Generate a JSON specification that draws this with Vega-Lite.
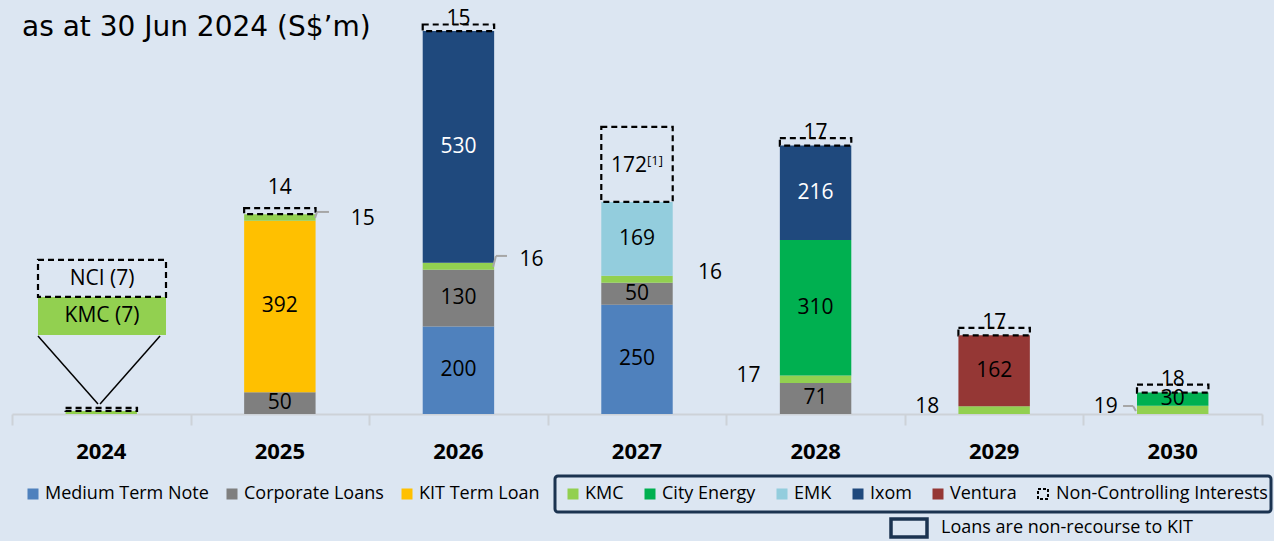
{
  "$schema": "https://vega.github.io/schema/vega-lite/v6.json",
  "width": 1250,
  "height": 414,
  "autosize": {"type": "none"},
  "padding": {"left": 12, "right": 12, "top": 0, "bottom": 127},
  "background": "#dce6f2",
  "title": {
    "text": "as at 30 Jun 2024 (S$’m)",
    "anchor": "start",
    "frame": "group",
    "orient": "top",
    "offset": -64,
    "dx": 10,
    "fontSize": 28,
    "font": "DejaVu Sans",
    "fontWeight": "normal",
    "color": "black",
    "baseline": "alphabetic"
  },
  "config": {
    "view": {"stroke": null},
    "text": {"font": "Open Sans"},
    "legend": {"labelFont": "Open Sans"}
  },
  "resolve": {"scale": {"x": "independent"}, "axis": {"x": "independent"}},
  "layer": [
    {
      "data": {
        "values": [
          {"year": "2024", "series": "KMC", "value": 7, "order": 4},
          {"year": "2024", "series": "Non-Controlling Interests", "value": 7, "order": 9},
          {"year": "2025", "series": "Corporate Loans", "value": 50, "order": 2},
          {"year": "2025", "series": "KIT Term Loan", "value": 392, "order": 3},
          {"year": "2025", "series": "KMC", "value": 15, "order": 4},
          {"year": "2025", "series": "Non-Controlling Interests", "value": 14, "order": 9},
          {"year": "2026", "series": "Medium Term Note", "value": 200, "order": 1},
          {"year": "2026", "series": "Corporate Loans", "value": 130, "order": 2},
          {"year": "2026", "series": "KMC", "value": 16, "order": 4},
          {"year": "2026", "series": "Ixom", "value": 530, "order": 7},
          {"year": "2026", "series": "Non-Controlling Interests", "value": 15, "order": 9},
          {"year": "2027", "series": "Medium Term Note", "value": 250, "order": 1},
          {"year": "2027", "series": "Corporate Loans", "value": 50, "order": 2},
          {"year": "2027", "series": "KMC", "value": 16, "order": 4},
          {"year": "2027", "series": "EMK", "value": 169, "order": 6},
          {"year": "2027", "series": "Non-Controlling Interests", "value": 172, "order": 9},
          {"year": "2028", "series": "Corporate Loans", "value": 71, "order": 2},
          {"year": "2028", "series": "KMC", "value": 17, "order": 4},
          {"year": "2028", "series": "City Energy", "value": 310, "order": 5},
          {"year": "2028", "series": "Ixom", "value": 216, "order": 7},
          {"year": "2028", "series": "Non-Controlling Interests", "value": 17, "order": 9},
          {"year": "2029", "series": "KMC", "value": 18, "order": 4},
          {"year": "2029", "series": "Ventura", "value": 162, "order": 8},
          {"year": "2029", "series": "Non-Controlling Interests", "value": 17, "order": 9},
          {"year": "2030", "series": "KMC", "value": 19, "order": 4},
          {"year": "2030", "series": "City Energy", "value": 30, "order": 5},
          {"year": "2030", "series": "Non-Controlling Interests", "value": 18, "order": 9}
        ]
      },
      "transform": [
        {"stack": "value", "groupby": ["year"], "sort": [{"field": "order", "order": "ascending"}], "as": ["y0", "y1"]},
        {"fold": ["y0", "y1"], "as": ["k", "v"]},
        {"aggregate": [{"op": "mean", "field": "v", "as": "mid"}], "groupby": ["year", "series", "value", "order", "y0", "y1"]}
      ],
      "layer": [
        {
          "transform": [{"filter": "indexof(['Medium Term Note','Corporate Loans','KIT Term Loan'], datum.series) >= 0"}],
          "mark": {"type": "bar"},
          "encoding": {
            "x": {
              "field": "year", "type": "nominal", "title": null,
              "scale": {"domain": ["2024", "2025", "2026", "2027", "2028", "2029", "2030"], "paddingInner": 0.6, "paddingOuter": 0.3},
              "axis": {"orient": "bottom", "domain": false, "ticks": false, "labelAngle": 0, "labelFont": "Open Sans", "labelFontSize": 22, "labelFontWeight": "bold", "labelColor": "black", "labelPadding": 27, "title": null}
            },
            "y": {"field": "y0", "type": "quantitative", "scale": {"domain": [0, 947], "nice": false, "zero": true}, "axis": null},
            "y2": {"field": "y1"},
            "color": {
              "field": "series", "type": "nominal",
              "scale": {"domain": ["Medium Term Note", "Corporate Loans", "KIT Term Loan"], "range": ["#4f81bd", "#7f7f7f", "#ffc000"]},
              "legend": {"orient": "none", "legendX": 12, "legendY": 485, "direction": "horizontal", "columns": 3, "title": null, "symbolType": "square", "symbolSize": 121, "symbolStrokeWidth": 0, "labelFontSize": 18, "labelColor": "black", "columnPadding": 14, "labelOffset": 3, "padding": 0, "labelLimit": 400}
            }
          }
        },
        {
          "transform": [{"filter": "indexof(['KMC','City Energy','EMK','Ixom','Ventura'], datum.series) >= 0"}],
          "mark": {"type": "bar"},
          "encoding": {
            "x": {"field": "year", "type": "nominal", "title": null},
            "y": {"field": "y0", "type": "quantitative", "axis": null},
            "y2": {"field": "y1"},
            "fill": {
              "field": "series", "type": "nominal",
              "scale": {"domain": ["KMC", "City Energy", "EMK", "Ixom", "Ventura"], "range": ["#92d050", "#00b050", "#93cddd", "#1f497d", "#953735"]},
              "legend": {
                "orient": "none", "legendX": 552, "legendY": 485, "direction": "horizontal", "columns": 5, "title": null,
                "symbolType": "square", "symbolSize": 121, "symbolStrokeWidth": 0, "labelFontSize": 18, "labelColor": "black", "columnPadding": 17, "labelOffset": 3, "padding": 0, "labelLimit": 400
              }
            }
          }
        },
        {
          "transform": [{"filter": "datum.series === 'Non-Controlling Interests'"}],
          "mark": {"type": "bar", "fill": "transparent", "stroke": "black", "strokeWidth": 2.2, "strokeDash": [6, 4]},
          "encoding": {
            "x": {"field": "year", "type": "nominal", "title": null},
            "y": {"field": "y0", "type": "quantitative", "axis": null},
            "y2": {"field": "y1"}
          }
        },
        {
          "transform": [{"filter": "datum.series !== 'KMC' && datum.series !== 'Non-Controlling Interests'"}],
          "mark": {"type": "text", "fontSize": 21, "baseline": "middle", "align": "center"},
          "encoding": {
            "x": {"field": "year", "type": "nominal", "title": null},
            "y": {"field": "mid", "type": "quantitative", "axis": null},
            "text": {"field": "value", "type": "quantitative"},
            "color": {"condition": {"test": "datum.series === 'Ixom'", "value": "white"}, "value": "black"}
          }
        },
        {
          "transform": [{"filter": "datum.series === 'Non-Controlling Interests' && indexof(['2026','2028','2029','2030'], datum.year) >= 0"}],
          "mark": {"type": "text", "fontSize": 21, "baseline": "middle", "align": "center", "dy": -5, "color": "black"},
          "encoding": {
            "x": {"field": "year", "type": "nominal", "title": null},
            "y": {"field": "y1", "type": "quantitative", "axis": null},
            "text": {"field": "value", "type": "quantitative"}
          }
        },
        {
          "transform": [{"filter": "datum.series === 'Non-Controlling Interests' && datum.year === '2025'"}],
          "mark": {"type": "text", "fontSize": 21, "baseline": "middle", "align": "center", "dy": -20, "color": "black"},
          "encoding": {
            "x": {"field": "year", "type": "nominal", "title": null},
            "y": {"field": "y1", "type": "quantitative", "axis": null},
            "text": {"field": "value", "type": "quantitative"}
          }
        },
        {
          "transform": [{"filter": "datum.series === 'Non-Controlling Interests' && datum.year === '2027'"}],
          "mark": {"type": "text", "fontSize": 21, "baseline": "middle", "align": "center", "dx": -8, "dy": 2, "color": "black"},
          "encoding": {
            "x": {"field": "year", "type": "nominal", "title": null},
            "y": {"field": "mid", "type": "quantitative", "axis": null},
            "text": {"field": "value", "type": "quantitative"}
          }
        },
        {
          "transform": [{"filter": "datum.series === 'Non-Controlling Interests' && datum.year === '2027'"}],
          "mark": {"type": "text", "fontSize": 13, "baseline": "middle", "align": "left", "dx": 10, "dy": -3, "color": "black", "text": "[1]"},
          "encoding": {
            "x": {"field": "year", "type": "nominal", "title": null},
            "y": {"field": "mid", "type": "quantitative", "axis": null}
          }
        },
        {
          "transform": [{"filter": "datum.series === 'KMC' && indexof(['2026','2027'], datum.year) >= 0"}],
          "mark": {"type": "text", "fontSize": 21, "baseline": "middle", "align": "center", "dx": 73, "dy": -6, "color": "black"},
          "encoding": {
            "x": {"field": "year", "type": "nominal", "title": null},
            "y": {"field": "mid", "type": "quantitative", "axis": null},
            "text": {"field": "value", "type": "quantitative"}
          }
        },
        {
          "transform": [{"filter": "datum.series === 'KMC' && datum.year === '2025'"}],
          "mark": {"type": "text", "fontSize": 21, "baseline": "middle", "align": "center", "dx": 83, "dy": 2, "color": "black"},
          "encoding": {
            "x": {"field": "year", "type": "nominal", "title": null},
            "y": {"field": "mid", "type": "quantitative", "axis": null},
            "text": {"field": "value", "type": "quantitative"}
          }
        },
        {
          "transform": [{"filter": "datum.series === 'KMC' && indexof(['2028','2029','2030'], datum.year) >= 0"}],
          "mark": {"type": "text", "fontSize": 21, "baseline": "middle", "align": "center", "dx": -67, "dy": -3, "color": "black"},
          "encoding": {
            "x": {"field": "year", "type": "nominal", "title": null},
            "y": {"field": "mid", "type": "quantitative", "axis": null},
            "text": {"field": "value", "type": "quantitative"}
          }
        }
      ]
    },
    {
      "data": {"values": [{}]},
      "layer": [
        {
          "mark": {"type": "rule", "color": "black", "strokeWidth": 1.5},
          "encoding": {
            "x": {
              "datum": 0.1456, "type": "quantitative",
              "scale": {"domain": [0, 7], "nice": false, "zero": false},
              "axis": {"orient": "bottom", "values": [0, 1, 2, 3, 4, 5, 6, 7], "labels": false, "ticks": true, "tickSize": 11, "tickColor": "#cdd2d8", "tickWidth": 2, "domain": true, "domainColor": "#cdd2d8", "domainWidth": 2, "grid": false, "title": null}
            },
            "x2": {"datum": 0.4816},
            "y": {"datum": 178.5, "type": "quantitative", "scale": {"domain": [0, 947], "nice": false}, "axis": null},
            "y2": {"datum": 22.9}
          }
        },
        {
          "mark": {"type": "rule", "color": "black", "strokeWidth": 1.5},
          "encoding": {
            "x": {"datum": 0.829, "type": "quantitative"},
            "x2": {"datum": 0.493},
            "y": {"datum": 178.5, "type": "quantitative", "axis": null},
            "y2": {"datum": 22.9}
          }
        },
        {
          "mark": {"type": "rect", "fill": "#92d050"},
          "encoding": {
            "x": {"datum": 0.1456, "type": "quantitative"},
            "x2": {"datum": 0.8624},
            "y": {"datum": 180.8, "type": "quantitative", "axis": null},
            "y2": {"datum": 267.7}
          }
        },
        {
          "mark": {"type": "rect", "fill": "transparent", "stroke": "black", "strokeWidth": 2.2, "strokeDash": [6, 4]},
          "encoding": {
            "x": {"datum": 0.1456, "type": "quantitative"},
            "x2": {"datum": 0.8624},
            "y": {"datum": 267.7, "type": "quantitative", "axis": null},
            "y2": {"datum": 352.4}
          }
        },
        {
          "mark": {"type": "text", "text": "NCI (7)", "fontSize": 21, "baseline": "middle", "align": "center", "color": "black"},
          "encoding": {
            "x": {"datum": 0.504, "type": "quantitative"},
            "y": {"datum": 309, "type": "quantitative", "axis": null}
          }
        },
        {
          "mark": {"type": "text", "text": "KMC (7)", "fontSize": 21, "baseline": "middle", "align": "center", "color": "black"},
          "encoding": {
            "x": {"datum": 0.504, "type": "quantitative"},
            "y": {"datum": 224, "type": "quantitative", "axis": null}
          }
        },
        {
          "mark": {"type": "rule", "color": "#a6a6a6", "strokeWidth": 2},
          "encoding": {"x": {"datum": 1.697, "type": "quantitative"}, "x2": {"datum": 1.708}, "y": {"datum": 448.5, "type": "quantitative", "axis": null}, "y2": {"datum": 462.2}}
        },
        {
          "mark": {"type": "rule", "color": "#a6a6a6", "strokeWidth": 2},
          "encoding": {"x": {"datum": 1.708, "type": "quantitative"}, "x2": {"datum": 1.775}, "y": {"datum": 462.2, "type": "quantitative", "axis": null}, "y2": {"datum": 462.2}}
        },
        {
          "mark": {"type": "rule", "color": "#a6a6a6", "strokeWidth": 2},
          "encoding": {"x": {"datum": 2.694, "type": "quantitative"}, "x2": {"datum": 2.71}, "y": {"datum": 336.4, "type": "quantitative", "axis": null}, "y2": {"datum": 361.6}}
        },
        {
          "mark": {"type": "rule", "color": "#a6a6a6", "strokeWidth": 2},
          "encoding": {"x": {"datum": 2.71, "type": "quantitative"}, "x2": {"datum": 2.772}, "y": {"datum": 361.6, "type": "quantitative", "axis": null}, "y2": {"datum": 361.6}}
        },
        {
          "mark": {"type": "rule", "color": "#a6a6a6", "strokeWidth": 2},
          "encoding": {"x": {"datum": 6.222, "type": "quantitative"}, "x2": {"datum": 6.278}, "y": {"datum": 18.3, "type": "quantitative", "axis": null}, "y2": {"datum": 18.3}}
        },
        {
          "mark": {"type": "rule", "color": "#a6a6a6", "strokeWidth": 2},
          "encoding": {"x": {"datum": 6.278, "type": "quantitative"}, "x2": {"datum": 6.294}, "y": {"datum": 18.3, "type": "quantitative", "axis": null}, "y2": {"datum": 6.9}}
        },
        {
          "mark": {"type": "rect", "fill": "transparent", "stroke": "#1b3350", "strokeWidth": 3, "cornerRadius": 3},
          "encoding": {
            "x": {"datum": 3.0408, "type": "quantitative"},
            "x2": {"datum": 7.0504},
            "y": {"datum": -141.9, "type": "quantitative", "axis": null},
            "y2": {"datum": -224.3}
          }
        },
        {
          "mark": {"type": "rule", "stroke": "black", "strokeCap": "butt", "strokeWidth": 1},
          "encoding": {
            "x": {"datum": 0, "type": "quantitative"},
            "x2": {"datum": 0},
            "y": {"datum": 0, "type": "quantitative", "axis": null},
            "y2": {"datum": 0},
            "strokeDash": {
              "datum": "Non-Controlling Interests", "type": "nominal",
              "scale": {"range": [[3, 2]]},
              "legend": {"orient": "none", "legendX": 1022, "legendY": 485, "title": null, "symbolType": "square", "symbolSize": 100, "symbolStrokeWidth": 2, "symbolStrokeColor": "black", "symbolFillColor": "transparent", "labelFontSize": 18, "labelColor": "black", "labelOffset": 4, "padding": 0, "labelLimit": 400}
            }
          }
        },
        {
          "mark": {"type": "rule", "strokeCap": "butt", "strokeWidth": 1},
          "encoding": {
            "x": {"datum": 0, "type": "quantitative"},
            "x2": {"datum": 0},
            "y": {"datum": 0, "type": "quantitative", "axis": null},
            "y2": {"datum": 0},
            "stroke": {
              "datum": "Loans are non-recourse to KIT", "type": "nominal",
              "scale": {"range": ["#1b3350"]},
              "legend": {"orient": "none", "legendX": 877, "legendY": 508, "title": null, "symbolType": "M-1,-0.5H1V0.5H-1Z", "symbolSize": 1296, "symbolStrokeWidth": 3.5, "symbolFillColor": "transparent", "labelFontSize": 18, "labelColor": "black", "labelOffset": 12, "padding": 0, "labelLimit": 400}
            }
          }
        }
      ]
    }
  ]
}
